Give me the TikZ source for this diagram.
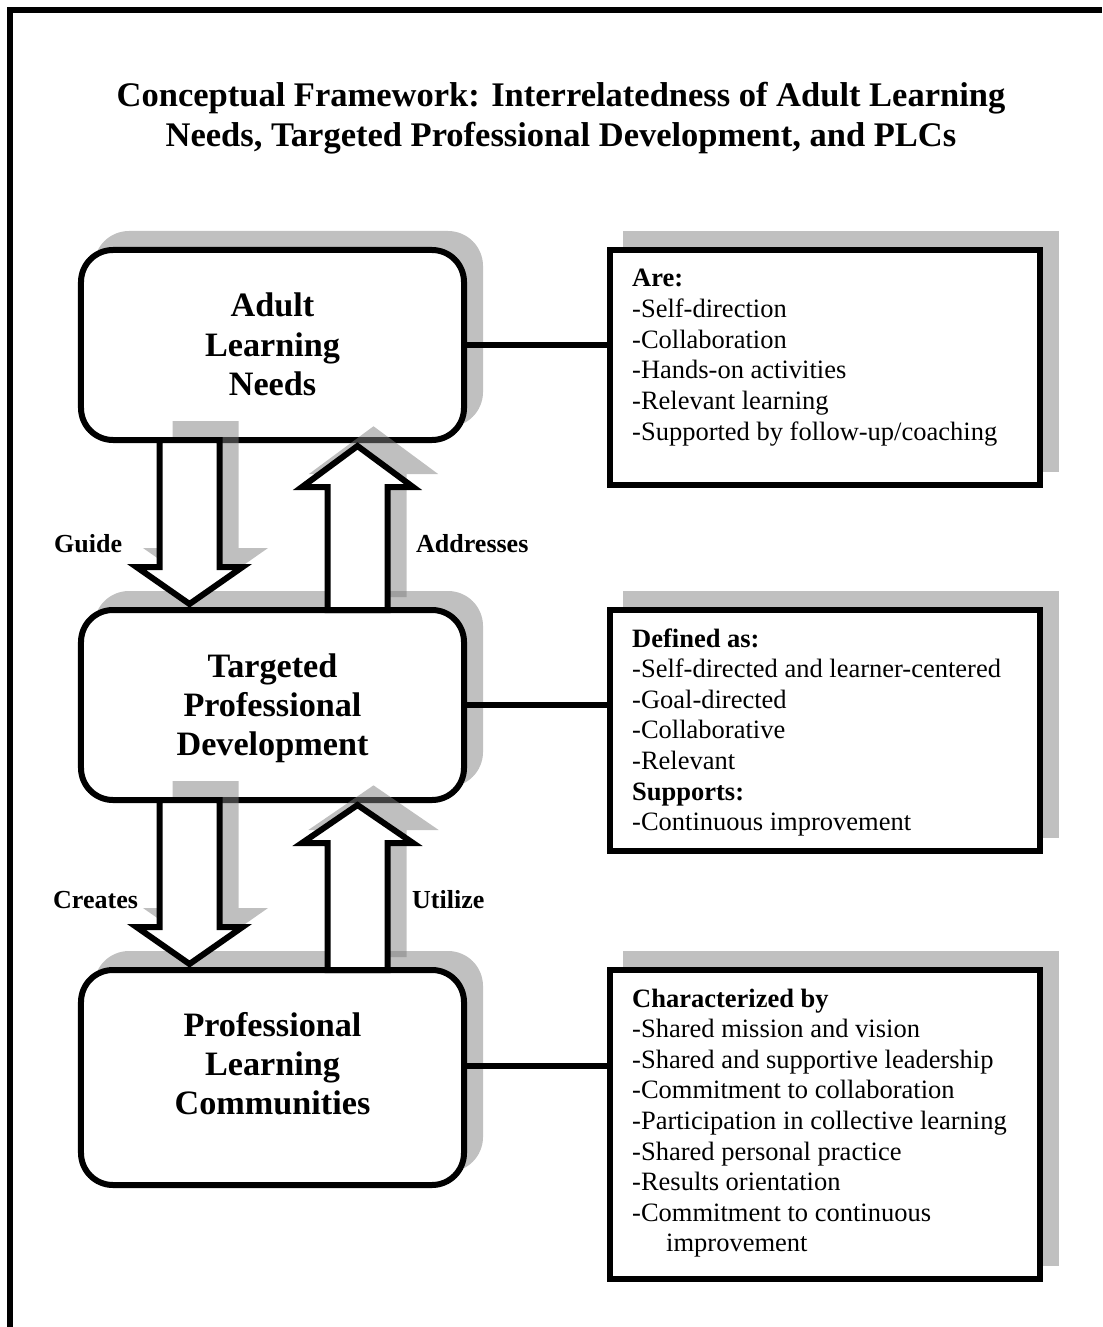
\documentclass[tikz,border=0pt]{standalone}
\usepackage{fontspec}
\setmainfont{Liberation Serif}
\definecolor{shade}{HTML}{C0C0C0}
% block arrow outline: #1 centre x, #2 shaft end (coordinate), #3 head base y, #4 tip y, #5 head half width
\newcommand{\blkpath}[5]{(#1-30,0 |- #2) -- (#1-30,#3) -- (#1-#5,#3) -- (#1,#4) -- (#1+#5,#3) -- (#1+30,#3) -- (#1+30,0 |- #2) -- cycle}
\newcommand{\ttlfont}{\fontsize{34.5bp}{40bp}\selectfont\bfseries}
\newcommand{\boxfont}{\fontsize{34.2bp}{39.2bp}\selectfont\bfseries}
\newcommand{\listfont}{\fontsize{26.5bp}{30.6bp}\selectfont}
\newcommand{\lblfont}{\fontsize{26bp}{30bp}\selectfont\bfseries}
\begin{document}
\begin{tikzpicture}[x=1bp,y=-1bp,
  lw/.style={line width=6bp},
  bigbox/.style={draw, lw, rounded corners=32bp, fill=white, minimum width=383bp, outer sep=0pt, inner sep=0pt},
  bigshadow/.style={draw=shade, fill=shade, lw, rounded corners=32bp, minimum width=383bp, outer sep=0pt, inner sep=0pt},
  listbox/.style={draw, lw, fill=white, minimum width=430bp, outer sep=0pt, inner sep=0pt},
  listshadow/.style={draw=shade, fill=shade, lw, minimum width=430bp, outer sep=0pt, inner sep=0pt},
  boxtext/.style={anchor=base, inner sep=0pt},
  listtext/.style={anchor=base west, inner sep=0pt},
  lbl/.style={anchor=base west, inner sep=0pt, font=\lblfont},
  blk/.style={draw, lw, fill=white, line join=miter},
  connector/.style={draw, lw}]
\useasboundingbox (0,0) rectangle (1102,1327);
% outer frame
\draw[lw] (9.5,1327) -- (9.5,10) -- (1102,10);
% title
\node[boxtext] (title) at (561,107) {\parbox[t]{1080bp}{\centering\ttlfont Conceptual Framework: Interrelatedness of Adult Learning\\Needs, Targeted Professional Development, and PLCs}};
% shadows of boxes
\node[bigshadow, minimum height=190bp] (b1s) at (288.5,329) {};
\node[bigshadow, minimum height=190bp] (b2s) at (288.5,689) {};
\node[bigshadow, minimum height=215bp] (b3s) at (288.5,1061.5) {};
\node[listshadow, minimum height=235bp] (r1s) at (841,351.5) {};
\node[listshadow, minimum height=241bp] (r2s) at (841,714.5) {};
\node[listshadow, minimum height=309bp] (r3s) at (841,1108.5) {};
% boxes
\node[bigbox, minimum height=190bp] (b1) at (272.5,345) {};
\node[bigbox, minimum height=190bp] (b2) at (272.5,705) {};
\node[bigbox, minimum height=215bp] (b3) at (272.5,1077.5) {};
\node[listbox, minimum height=235bp] (r1) at (825,367.5) {};
\node[listbox, minimum height=241bp] (r2) at (825,730.5) {};
\node[listbox, minimum height=309bp] (r3) at (825,1124.5) {};
% box texts
\node[boxtext] (b1t) at (272.5,317) {\parbox[t]{370bp}{\centering\boxfont Adult\\Learning\\Needs}};
\node[boxtext] (b2t) at (272.5,677) {\parbox[t]{370bp}{\centering\boxfont Targeted\\Professional\\Development}};
\node[boxtext] (b3t) at (272.5,1036) {\parbox[t]{370bp}{\centering\boxfont Professional\\Learning\\Communities}};
% list texts
\node[listtext] (r1t) at (632,287) {\parbox[t]{405bp}{\raggedright\listfont\textbf{Are:}\\-Self-direction\\-Collaboration\\-Hands-on activities\\-Relevant learning\\-Supported by follow-up/coaching}};
\node[listtext] (r2t) at (632,647) {\parbox[t]{405bp}{\raggedright\listfont\textbf{Defined as:}\\-Self-directed and learner-centered\\-Goal-directed\\-Collaborative\\-Relevant\\\textbf{Supports:}\\-Continuous improvement}};
\node[listtext] (r3t) at (632,1007) {\parbox[t]{405bp}{\raggedright\listfont\textbf{Characterized by}\\-Shared mission and vision\\-Shared and supportive leadership\\-Commitment to collaboration\\-Participation in collective learning\\-Shared personal practice\\-Results orientation\\-Commitment to continuous\\\hspace*{34bp}improvement}};
% connectors from boxes to lists
\coordinate (c3) at (b3.east |- 0,1066);
\draw[connector] (b1.east) -- (b1.east -| r1.west);
\draw[connector] (b2.east) -- (b2.east -| r2.west);
\draw[connector] (c3) -- (c3 -| r3.west);
% shadows of block arrows
\begin{scope}[transparency group, opacity=0.5, shift={(16,-16)}]
  \filldraw[black!50, lw, line join=miter] \blkpath{189.5}{0,440}{567}{604}{53};
  \filldraw[black!50, lw, line join=miter] \blkpath{357.5}{0,610}{487}{446}{55.5};
  \filldraw[black!50, lw, line join=miter] \blkpath{189.5}{0,800}{927}{964}{53};
  \filldraw[black!50, lw, line join=miter] \blkpath{357.5}{0,970}{843}{805}{55.5};
\end{scope}
% block arrows
\draw[blk] \blkpath{189.5}{b1.south}{567}{604}{53};
\draw[blk] \blkpath{357.5}{b2.north}{487}{446}{55.5};
\draw[blk] \blkpath{189.5}{b2.south}{927}{964}{53};
\draw[blk] \blkpath{357.5}{b3.north}{843}{805}{55.5};
% arrow labels
\node[lbl] (guide) at (54,552) {Guide};
\node[lbl] (addr) at (416,552) {Addresses};
\node[lbl] (creates) at (53,908) {Creates};
\node[lbl] (utilize) at (412,908) {Utilize};
\end{tikzpicture}
\end{document}
